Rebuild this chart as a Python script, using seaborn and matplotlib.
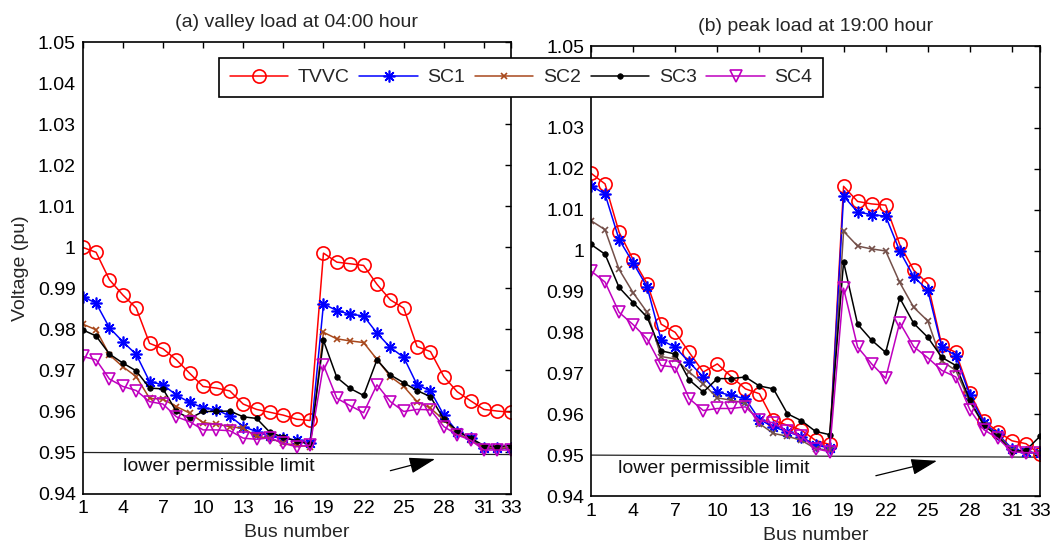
import numpy as np
import pandas as pd
import matplotlib
matplotlib.use("Agg")
import matplotlib.pyplot as plt
import seaborn as sns

sns.set_theme(style="white")
plt.rcParams['font.family'] = ['Liberation Sans', 'DejaVu Sans']
plt.rcParams['font.size'] = 14

bus = list(range(1, 34))

# (a) valley load at 04:00 hour
tvvc_a = [1.000, 0.9988, 0.9921, 0.9884, 0.9852, 0.9766, 0.9753, 0.9726, 0.9693, 0.9661, 0.9657, 0.9650,
          0.9618, 0.9605, 0.9598, 0.9591, 0.9581, 0.9578, 0.9986, 0.9964, 0.9960, 0.9956, 0.9910, 0.9872,
          0.9852, 0.9758, 0.9746, 0.9685, 0.9648, 0.9626, 0.9605, 0.9601, 0.9598]
sc1_a = [0.9880, 0.9864, 0.9804, 0.9770, 0.9739, 0.9673, 0.9665, 0.9640, 0.9622, 0.9609, 0.9604, 0.9589,
         0.9563, 0.9551, 0.9539, 0.9535, 0.9530, 0.9524, 0.9862, 0.9846, 0.9837, 0.9833, 0.9791, 0.9756,
         0.9732, 0.9665, 0.9650, 0.9591, 0.9551, 0.9535, 0.9510, 0.9510, 0.9510]
sc2_a = [0.9813, 0.9799, 0.9738, 0.9709, 0.9685, 0.9632, 0.9630, 0.9612, 0.9596, 0.9573, 0.9569, 0.9563,
         0.9559, 0.9539, 0.9535, 0.9522, 0.9518, 0.9514, 0.9793, 0.9777, 0.9772, 0.9768, 0.9727, 0.9685,
         0.9661, 0.9624, 0.9608, 0.9579, 0.9547, 0.9530, 0.9512, 0.9510, 0.9512]
sc3_a = [0.9799, 0.9784, 0.9740, 0.9718, 0.9699, 0.9657, 0.9655, 0.9600, 0.9583, 0.9600, 0.9600, 0.9601,
         0.9587, 0.9583, 0.9549, 0.9537, 0.9528, 0.9520, 0.9773, 0.9683, 0.9656, 0.9639, 0.9726, 0.9689,
         0.9670, 0.9651, 0.9636, 0.9581, 0.9553, 0.9535, 0.9517, 0.9514, 0.9517]
sc4_a = [0.9734, 0.9726, 0.9679, 0.9661, 0.9651, 0.9624, 0.9618, 0.9587, 0.9575, 0.9555, 0.9555, 0.9553,
         0.9535, 0.9532, 0.9536, 0.9522, 0.9514, 0.9518, 0.9713, 0.9632, 0.9614, 0.9597, 0.9665, 0.9624,
         0.9600, 0.9605, 0.9604, 0.9563, 0.9543, 0.9530, 0.9506, 0.9506, 0.9506]

# (b) peak load at 19:00 hour
tvvc_b = [1.0189, 1.0163, 1.0045, 0.9978, 0.9919, 0.9820, 0.9800, 0.9751, 0.9703, 0.9723, 0.9692, 0.9662,
          0.9650, 0.9585, 0.9573, 0.9561, 0.9536, 0.9526, 1.0157, 1.0120, 1.0114, 1.0111, 1.0015, 0.9952,
          0.9919, 0.9768, 0.9751, 0.9652, 0.9584, 0.9557, 0.9535, 0.9528, 0.9502]
sc1_b = [1.0159, 1.0138, 1.0027, 0.9970, 0.9911, 0.9781, 0.9764, 0.9727, 0.9691, 0.9654, 0.9646, 0.9638,
         0.9587, 0.9569, 0.9557, 0.9545, 0.9524, 0.9518, 1.0133, 1.0094, 1.0088, 1.0084, 0.9999, 0.9936,
         0.9903, 0.9764, 0.9743, 0.9646, 0.9579, 0.9551, 0.9516, 0.9508, 0.9504]
sc2_b = [1.0073, 1.0051, 0.9954, 0.9897, 0.9849, 0.9741, 0.9735, 0.9703, 0.9674, 0.9640, 0.9634, 0.9627,
         0.9577, 0.9553, 0.9546, 0.9536, 0.9516, 0.9512, 1.0047, 1.0011, 1.0004, 0.9999, 0.9922, 0.9861,
         0.9828, 0.9730, 0.9707, 0.9630, 0.9573, 0.9549, 0.9512, 0.9508, 0.9504]
sc3_b = [1.0015, 0.9991, 0.9910, 0.9873, 0.9837, 0.9755, 0.9747, 0.9684, 0.9654, 0.9687, 0.9687, 0.9691,
         0.9669, 0.9662, 0.9601, 0.9584, 0.9558, 0.9550, 0.9972, 0.9820, 0.9781, 0.9751, 0.9884, 0.9822,
         0.9788, 0.9739, 0.9719, 0.9634, 0.9573, 0.9546, 0.9508, 0.9512, 0.9546]
sc4_b = [0.9950, 0.9923, 0.9849, 0.9819, 0.9784, 0.9719, 0.9715, 0.9638, 0.9609, 0.9614, 0.9614, 0.9618,
         0.9585, 0.9579, 0.9558, 0.9546, 0.9516, 0.9508, 0.9908, 0.9764, 0.9723, 0.9688, 0.9824, 0.9765,
         0.9738, 0.9707, 0.9691, 0.9611, 0.9562, 0.9541, 0.9508, 0.9506, 0.9506]

series_names = ["TVVC", "SC1", "SC2", "SC3", "SC4"]
limit_line = [0.9500, 0.9495]
x_ticks = [1, 4, 7, 10, 13, 16, 19, 22, 25, 28, 31, 33]
y_ticks = [0.94, 0.95, 0.96, 0.97, 0.98, 0.99, 1.00, 1.01, 1.02, 1.03, 1.04, 1.05]
y_tick_labels = ["0.94", "0.95", "0.96", "0.97", "0.98", "0.99", "1", "1.01", "1.02", "1.03", "1.04", "1.05"]
titles = ["(a) valley load at 04:00 hour", "(b) peak load at 19:00 hour"]

styles = {
    "TVVC": dict(marker="o", markersize=9.5, markerfacecolor="none", markeredgewidth=1.2, lw=1.1),
    "SC1": dict(marker=(8, 2, 0), markersize=8.5, markeredgewidth=1.2, lw=1.1),
    "SC2": dict(marker="x", markersize=4.5, markeredgewidth=1.2, lw=1.1),
    "SC3": dict(marker="o", markersize=4.0, markeredgewidth=0.5, lw=1.1),
    "SC4": dict(marker="v", markersize=9, markerfacecolor="none", markeredgewidth=1.2, lw=1.1),
}
colors_a = {"TVVC": "#ff0000", "SC1": "#0000ff", "SC2": "#a8481c", "SC3": "#000000", "SC4": "#bf00bf"}
colors_b = {"TVVC": "#ff0000", "SC1": "#0000ff", "SC2": "#74504a", "SC3": "#000000", "SC4": "#bf00bf"}

fig = plt.figure(figsize=(10.55, 5.47), dpi=100)
ax_a = fig.add_axes([0.0784, 0.0978, 0.4057, 0.8249])
ax_b = fig.add_axes([0.5602, 0.0932, 0.4256, 0.8227])

panels = [
    (ax_a, [tvvc_a, sc1_a, sc2_a, sc3_a, sc4_a], colors_a),
    (ax_b, [tvvc_b, sc1_b, sc2_b, sc3_b, sc4_b], colors_b),
]

arrow_spec = [((24.0, 0.94556), (27.35, 0.94841), (4.0, 0.9465)),
              ((21.3, 0.94496), (25.66, 0.94861), (2.95, 0.9468))]

for i, (ax, vals, cols) in enumerate(panels):
    for name, v in zip(series_names, vals):
        st = dict(styles[name])
        c = cols[name]
        df = pd.DataFrame({"bus": bus, "v": v})
        sns.lineplot(data=df, x="bus", y="v", ax=ax, color=c, markeredgecolor=c,
                     label=name, legend=False, **st)
    ax.plot([bus[0], bus[-1]], limit_line, color="#222222", lw=0.9, zorder=1)
    ax.text(arrow_spec[i][2][0], arrow_spec[i][2][1], "lower permissible limit",
            fontsize=14, va="center", ha="left", color="#111111")
    ax.annotate("", xy=arrow_spec[i][1], xytext=arrow_spec[i][0],
                arrowprops=dict(arrowstyle="-|>,head_length=0.9,head_width=0.28",
                                color="black", lw=0.9, mutation_scale=18, shrinkA=0, shrinkB=0))
    ax.set_xlim(1, 33)
    ax.set_ylim(0.94, 1.05)
    ax.set_xticks(x_ticks)
    ax.set_xticklabels([str(t) for t in x_ticks])
    ax.set_yticks(y_ticks)
    ax.set_yticklabels(y_tick_labels)
    ax.tick_params(direction="in", top=True, right=True, length=4, width=1.0,
                   labelsize=14, colors="black", pad=5)
    for sp in ax.spines.values():
        sp.set_visible(True)
        sp.set_color("black")
        sp.set_linewidth(1.2)
    ax.set_xlabel("Bus number", fontsize=14, labelpad=5)
    ax.set_ylabel("")
    ax.set_title(titles[i], fontsize=14, pad=11)
    ax.set_facecolor("white")

ax_a.set_ylabel("Voltage (pu)", fontsize=14, labelpad=6)

handles, labels = ax_a.get_legend_handles_labels()
leg = fig.legend(handles, labels, loc="center", bbox_to_anchor=(0.494, 0.858), ncol=5,
                 fontsize=14, frameon=True, fancybox=False, framealpha=1, edgecolor="black",
                 handlelength=3.0, columnspacing=0.5, handletextpad=0.5, borderpad=0.55,
                 borderaxespad=0)
leg.get_frame().set_linewidth(1.2)

fig.savefig("out.png", dpi=100, facecolor="white")
